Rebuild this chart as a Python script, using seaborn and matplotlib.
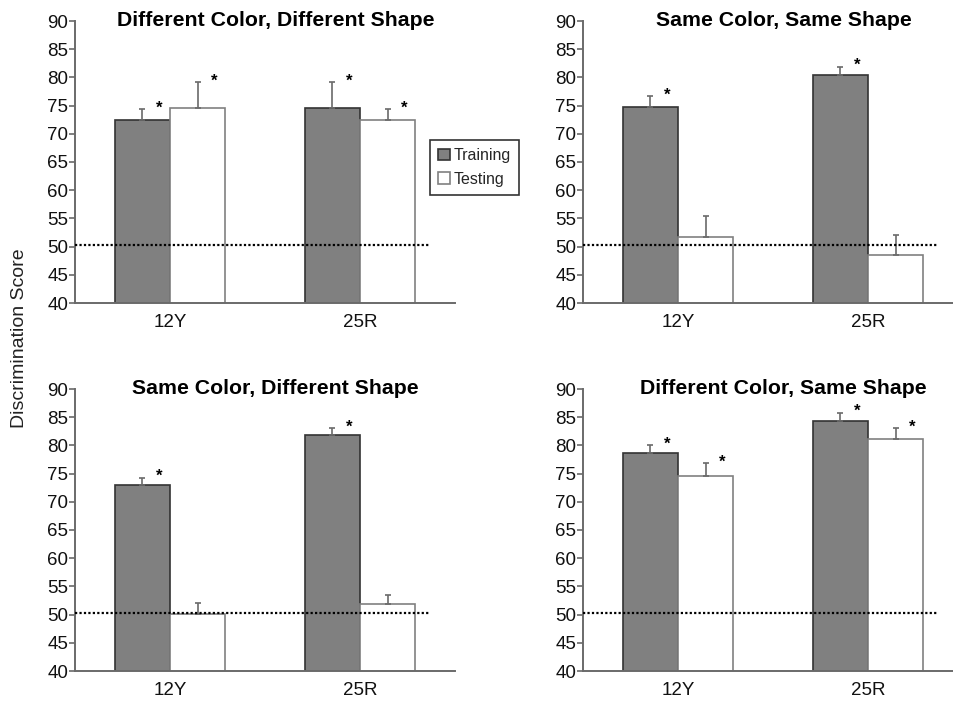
import numpy as np
import pandas as pd
import matplotlib
matplotlib.use('Agg')
import matplotlib.pyplot as plt
import seaborn as sns

# Data (means and upward error sizes)
titles = ['Different Color, Different Shape', 'Same Color, Same Shape',
          'Same Color, Different Shape', 'Different Color, Same Shape']
groups = ['12Y', '25R']
phases = ['Training', 'Testing']

train_mean = [[72.4, 74.5], [74.7, 80.4], [72.9, 81.8], [78.6, 84.4]]
train_err = [[2.0, 4.6], [2.0, 1.5], [1.4, 1.2], [1.4, 1.4]]
test_mean = [[74.5, 72.4], [51.7, 48.5], [50.1, 51.8], [74.5, 81.1]]
test_err = [[4.6, 2.0], [3.7, 3.6], [2.0, 1.7], [2.3, 2.0]]

# significance stars (training, testing) per group
train_star = [[True, True], [True, True], [True, True], [True, True]]
test_star = [[True, True], [False, False], [False, False], [True, True]]

chance = 50.3

sns.set_style('white')
plt.rcParams['font.family'] = ['Liberation Sans', 'DejaVu Sans']

fig = plt.figure(figsize=(9.54, 7.02), dpi=100)

W, H = 954, 702
boxes = [(75, 21), (583, 21), (75, 389), (583, 389)]
ax_w, ax_h = 380, 282

fills = ['#808080', '#ffffff']
edges = ['#333333', '#808080']

axes = []
for i, (x0, y0) in enumerate(boxes):
    ax = fig.add_axes([x0 / W, 1 - (y0 + ax_h) / H, ax_w / W, ax_h / H])
    axes.append(ax)

    df = pd.DataFrame({
        'group': groups * 2,
        'phase': [phases[0]] * 2 + [phases[1]] * 2,
        'score': train_mean[i] + test_mean[i],
    })
    sns.barplot(data=df, x='group', y='score', hue='phase', order=groups,
                hue_order=phases, palette=fills, width=0.58, saturation=1,
                errorbar=None, legend=False, ax=ax, linewidth=1.2)

    errs = [train_err[i], test_err[i]]
    stars = [train_star[i], test_star[i]]
    bar_conts = list(ax.containers)
    for k, cont in enumerate(bar_conts):
        xs, ys = [], []
        for j, bar in enumerate(cont):
            bar.set_edgecolor(edges[k])
            cx = bar.get_x() + bar.get_width() / 2
            xs.append(cx)
            ys.append(bar.get_height())
            if stars[k][j]:
                ax.text(cx + 0.09, bar.get_height() + errs[k][j] - 0.6, '*',
                        ha='center', va='baseline', fontsize=12,
                        fontweight='bold', color='black')
        ax.errorbar(xs, ys, yerr=[np.zeros(len(ys)), errs[k]], fmt='none',
                    ecolor='#6a6a6a', elinewidth=1.2, capsize=2, capthick=1.2)

    ax.hlines(chance, -0.5, 1.37, colors='black', linestyles=(0, (1, 1)),
              linewidth=1.6, zorder=5)

    ax.set_xlim(-0.5, 1.5)
    ax.set_ylim(40, 90)
    ax.set_yticks(np.arange(40, 91, 5))
    ax.set_xlabel('')
    ax.set_ylabel('')
    ax.set_xticks([0.5, 1.5], minor=True)
    ax.tick_params(axis='x', which='major', length=0, labelsize=13.5, pad=8,
                   labelcolor='#111111')
    ax.tick_params(axis='x', which='minor', length=4, width=1.2,
                   color='#6a6a6a', direction='out')
    ax.tick_params(axis='y', length=4, width=1.2, color='#6a6a6a',
                   direction='out', labelsize=13.5, pad=1,
                   labelcolor='#111111')
    ax.tick_params(left=True, bottom=True)
    for s in ['top', 'right']:
        ax.spines[s].set_visible(False)
    for s in ['left', 'bottom']:
        ax.spines[s].set_color('#6a6a6a')
        ax.spines[s].set_linewidth(1.4)

    ax.text(0.528, 1.0, titles[i], transform=ax.transAxes, ha='center',
            va='center', fontsize=15.3, fontweight='bold', color='black')

handles = [axes[0].containers[0][0], axes[0].containers[1][0]]
leg = fig.legend(handles, phases, loc='upper left',
                 bbox_to_anchor=(430 / W, 1 - 140 / H), fontsize=11.5,
                 frameon=True, fancybox=False, handlelength=0.75,
                 handleheight=0.75, handletextpad=0.25, borderpad=0.5,
                 labelspacing=0.55, borderaxespad=0)
leg.get_frame().set_edgecolor('black')
leg.get_frame().set_linewidth(1.2)

fig.text(20 / W, 1 - 338 / H, 'Discrimination Score', rotation=90,
         ha='center', va='center', fontsize=14, color='#222222')

fig.savefig('out.png', dpi=100)
